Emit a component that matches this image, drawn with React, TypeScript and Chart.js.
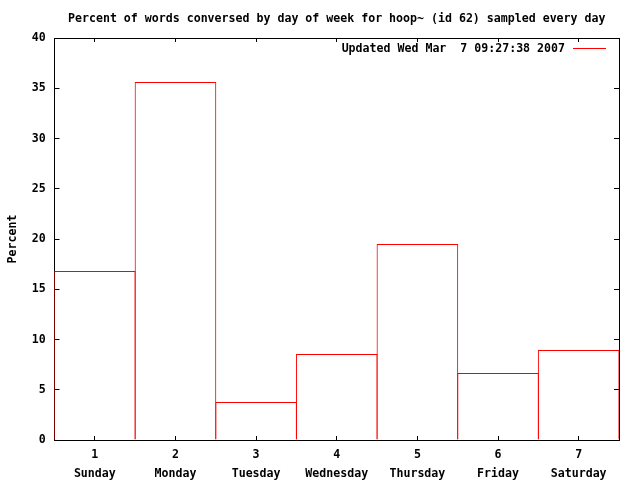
import React, { useEffect, useRef } from "react";
import { Chart, registerables } from "chart.js";

Chart.register(...registerables);

const DAY_NUMBERS = ["1", "2", "3", "4", "5", "6", "7"];
const DAY_NAMES = ["Sunday", "Monday", "Tuesday", "Wednesday", "Thursday", "Friday", "Saturday"];
const PERCENT = [16.82, 35.62, 3.78, 8.56, 19.5, 6.67, 8.96];
const Y_MIN = 0;
const Y_MAX = 40;
const Y_STEP = 5;
const TITLE = "Percent of words conversed by day of week for hoop~ (id 62) sampled every day";
const SERIES_LABEL = "Updated Wed Mar  7 09:27:38 2007";
const Y_LABEL = "Percent";

const FAMILY = "'DejaVu Sans Mono', 'Liberation Mono', monospace";
const FONT_SIZE = 11.6;
const BASE_FONT = { family: FAMILY, size: FONT_SIZE, weight: "bold" as const };
const INK = "#000000";
const RED = "#ff0000";

const legendPlugin = {
  id: "gnuplotKey",
  afterDraw(chart: any) {
    const ds = chart.data.datasets[0];
    const area = chart.chartArea;
    const ctx = chart.ctx;
    ctx.save();
    ctx.font = `bold ${FONT_SIZE}px ${FAMILY}`;
    ctx.fillStyle = INK;
    ctx.textAlign = "right";
    ctx.textBaseline = "middle";
    const y = area.top + 11;
    const lineEnd = area.right - 13;
    const lineStart = lineEnd - 33;
    ctx.fillText(ds.label, lineStart - 8, y);
    ctx.strokeStyle = ds.borderColor;
    ctx.lineWidth = 1;
    ctx.beginPath();
    ctx.moveTo(lineStart, Math.floor(y) - 0.5);
    ctx.lineTo(lineEnd, Math.floor(y) - 0.5);
    ctx.stroke();
    ctx.restore();
  },
};

export default function App() {
  const ref = useRef<HTMLCanvasElement>(null);

  useEffect(() => {
    const labels = DAY_NUMBERS.map((n, i) => [n, DAY_NAMES[i]]);
    const chart = new Chart(ref.current as HTMLCanvasElement, {
      type: "bar",
      data: {
        labels,
        datasets: [
          {
            label: SERIES_LABEL,
            data: PERCENT,
            borderColor: RED,
            backgroundColor: "rgba(0,0,0,0)",
            borderWidth: 1,
            borderSkipped: "start",
            inflateAmount: 0,
            barPercentage: 1.0124,
            categoryPercentage: 1,
            xAxisID: "x",
            yAxisID: "y",
          } as any,
        ],
      },
      options: {
        responsive: false,
        devicePixelRatio: 1,
        animation: false,
        layout: { padding: 0 },
        plugins: {
          legend: { display: false },
          title: { display: false },
          tooltip: { enabled: false },
        },
        scales: {
          x: {
            type: "category",
            position: "bottom",
            offset: true,
            z: 1,
            grid: {
              offset: false,
              drawOnChartArea: false,
              drawTicks: true,
              tickLength: -4,
              color: INK,
            },
            border: { display: true, color: INK, width: 1 },
            ticks: {
              color: INK,
              font: { ...BASE_FONT, lineHeight: 1.61 },
              padding: 9.5,
              maxRotation: 0,
              autoSkip: false,
            },
            afterFit: (s: any) => {
              s.height = 40;
            },
          },
          x2: {
            type: "category",
            position: "top",
            offset: true,
            z: 1,
            grid: {
              offset: false,
              drawOnChartArea: false,
              drawTicks: true,
              tickLength: -4,
              color: INK,
            },
            border: { display: true, color: INK, width: 1 },
            ticks: { display: false },
            title: {
              display: true,
              text: TITLE,
              color: INK,
              font: BASE_FONT,
              padding: { top: 12, bottom: 0 },
            },
            afterFit: (s: any) => {
              s.height = 38;
            },
          },
          y: {
            type: "linear",
            position: "left",
            min: Y_MIN,
            max: Y_MAX,
            z: 1,
            grid: {
              drawOnChartArea: false,
              drawTicks: true,
              tickLength: -5,
              color: INK,
            },
            border: { display: true, color: INK, width: 1 },
            ticks: {
              stepSize: Y_STEP,
              color: INK,
              font: BASE_FONT,
              padding: 13.8,
            },
            title: {
              display: true,
              text: Y_LABEL,
              color: INK,
              font: BASE_FONT,
              padding: { top: 6, bottom: 0 },
            },
            afterFit: (s: any) => {
              s.width = 54.5;
            },
          },
          y2: {
            type: "linear",
            position: "right",
            min: Y_MIN,
            max: Y_MAX,
            z: 1,
            grid: {
              drawOnChartArea: false,
              drawTicks: true,
              tickLength: -5,
              color: INK,
            },
            border: { display: true, color: INK, width: 1 },
            ticks: { display: false, stepSize: Y_STEP },
            afterFit: (s: any) => {
              s.width = 21;
            },
          },
        },
      } as any,
      plugins: [legendPlugin],
    });
    return () => chart.destroy();
  }, []);

  return (
    <div
      style={{
        position: "absolute",
        left: 0,
        top: 0,
        width: 640,
        height: 480,
        background: "#ffffff",
      }}
    >
      <canvas ref={ref} width={640} height={480} style={{ display: "block" }} />
    </div>
  );
}
